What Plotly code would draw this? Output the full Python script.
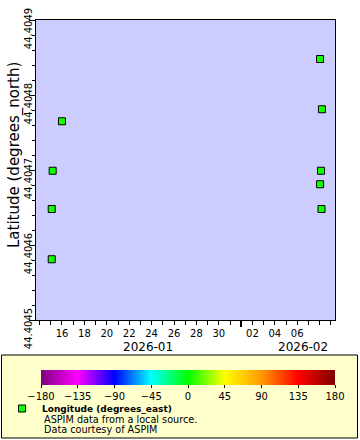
import pandas as pd
import plotly.graph_objects as go

# ---- data ----
times = ["2026-01-15 02:00", "2026-01-15 02:00", "2026-01-15 04:00", "2026-01-16 00:00",
         "2026-02-08 01:00", "2026-02-08 05:00", "2026-02-08 03:00", "2026-02-08 01:00",
         "2026-02-08 04:00"]
latitude = [44.404581, 44.404648, 44.404699, 44.404765,
            44.404848, 44.404781, 44.404699, 44.404681, 44.404648]
longitude = [3.0, 3.0, 3.0, 3.0, 3.0, 3.0, 3.0, 3.0, 3.0]

lat_range = [44.4045, 44.4049]
lat_ticks = [44.4045, 44.4046, 44.4047, 44.4048, 44.4049]
lat_tick_text = ["44.4045", "44.4046", "44.4047", "44.4048", "44.4049"]
time_range = ["2026-01-13 16:18", "2026-02-09 09:00"]
day_tick_dates = ["2026-01-16", "2026-01-18", "2026-01-20", "2026-01-22", "2026-01-24",
                  "2026-01-26", "2026-01-28", "2026-01-30", "2026-02-02", "2026-02-04",
                  "2026-02-06"]
day_tick_text = ["16", "18", "20", "22", "24", "26", "28", "30", "02", "04", "06"]
month_start = ["2026-02-01"]
month_labels = ["2026-01", "2026-02"]
lon_ticks = [-180, -135, -90, -45, 0, 45, 90, 135, 180]
lon_colors = ["#800080", "#FF00FF", "#0000FF", "#00FFFF", "#00FF00",
              "#FFFF00", "#FF9900", "#FF0000", "#800000"]

FONT = "DejaVu Sans"
W, H = 360, 440
L, R, T, B = 36, 25, 20, 120
PW, PH = W - L - R, H - T - B


def px(x):
    return (x - L) / PW


def py(y):
    return (H - B - y) / PH


colorscale = [[i / (len(lon_colors) - 1), c] for i, c in enumerate(lon_colors)]
daily = [d.strftime("%Y-%m-%d") for d in pd.date_range("2026-01-13", "2026-02-10", freq="D")]
minor_lat = [44.4045 + i * 0.00002 for i in range(21)]

fig = go.Figure()
fig.add_trace(go.Scatter(
    x=times, y=latitude, mode="markers",
    name="<b>Longitude (degrees_east)</b>",
    marker=dict(symbol="square", size=7, color=longitude, colorscale=colorscale,
                cmin=-180, cmax=180, line=dict(color="black", width=1),
                colorbar=dict(orientation="h", x=px(188), xanchor="center",
                              y=py(370), yanchor="top", len=294, lenmode="pixels",
                              thickness=15, thicknessmode="pixels", xpad=0, ypad=0,
                              outlinewidth=0, tickvals=lon_ticks, ticks="outside",
                              ticklen=3, tickcolor="black",
                              tickfont=dict(family=FONT, size=10, color="black"))),
    showlegend=True,
))
fig.add_trace(go.Scatter(x=[], y=[], xaxis="x2", yaxis="y", showlegend=False,
                         hoverinfo="skip"))

fig.update_layout(
    width=W, height=H,
    margin=dict(l=L, r=R, t=T, b=B, pad=0, autoexpand=False),
    paper_bgcolor="white", plot_bgcolor="#CCCCFF",
    font=dict(family=FONT, size=10, color="black"),
    xaxis=dict(type="date", range=time_range, tickmode="array", tickvals=day_tick_dates,
               ticktext=day_tick_text, ticks="outside", ticklen=4, tickcolor="black",
               showline=True, linecolor="black", linewidth=1, mirror=True,
               showgrid=False, zeroline=False, tickfont=dict(size=10), automargin=False,
               minor=dict(tickmode="array", tickvals=daily, ticks="outside",
                          ticklen=4, tickcolor="black", showgrid=False)),
    xaxis2=dict(type="date", overlaying="x", matches="x", anchor="y", side="bottom",
                tickmode="array", tickvals=month_start, ticks="outside", ticklen=6,
                tickwidth=2, tickcolor="black", showticklabels=False, automargin=False,
                showgrid=False, zeroline=False, showline=False),
    yaxis=dict(range=lat_range, tickmode="array", tickvals=lat_ticks,
               ticktext=lat_tick_text, ticklabeloverflow="allow",
               tickangle=-90, ticks="outside", ticklen=6, tickcolor="black",
               ticklabelstandoff=-7, ticklabelshift=10,
               showline=True, linecolor="black", linewidth=1, mirror=True,
               showgrid=False, zeroline=False, tickfont=dict(size=10), automargin=False,
               minor=dict(tickmode="array", tickvals=minor_lat, ticks="outside", ticklen=3,
                          tickcolor="black", showgrid=False)),
    legend=dict(x=px(2), xanchor="left", y=py(394), yanchor="top",
                bgcolor="rgba(0,0,0,0)", borderwidth=0,
                font=dict(family=FONT, size=9, color="black")),
    showlegend=True,
)

# legend box
fig.add_shape(type="rect", xref="paper", yref="paper",
              x0=px(1.5), x1=px(357.5), y0=py(355), y1=py(438),
              fillcolor="#FFFFCC", line=dict(color="black", width=1), layer="below")

# axis title and month labels
fig.add_annotation(text="Latitude (degrees_north)", xref="paper", yref="paper",
                   x=px(14), y=py(155), textangle=-90, showarrow=False,
                   font=dict(size=15), xanchor="center", yanchor="middle")
fig.add_annotation(text=month_labels[0], xref="paper", yref="paper", x=px(148), y=py(347),
                   showarrow=False, font=dict(size=12), xanchor="center", yanchor="middle")
fig.add_annotation(text=month_labels[1], xref="paper", yref="paper", x=px(303), y=py(347),
                   showarrow=False, font=dict(size=12), xanchor="center", yanchor="middle")
for txt, yy in [("ASPIM data from a local source.", 419), ("Data courtesy of ASPIM", 429)]:
    fig.add_annotation(text=txt, xref="paper", yref="paper", x=px(42), y=py(yy),
                       showarrow=False, font=dict(size=9.7), xanchor="left",
                       yanchor="middle")

fig.write_html("out.html", config={"displayModeBar": False},
               post_script="document.body.style.margin='0';")
